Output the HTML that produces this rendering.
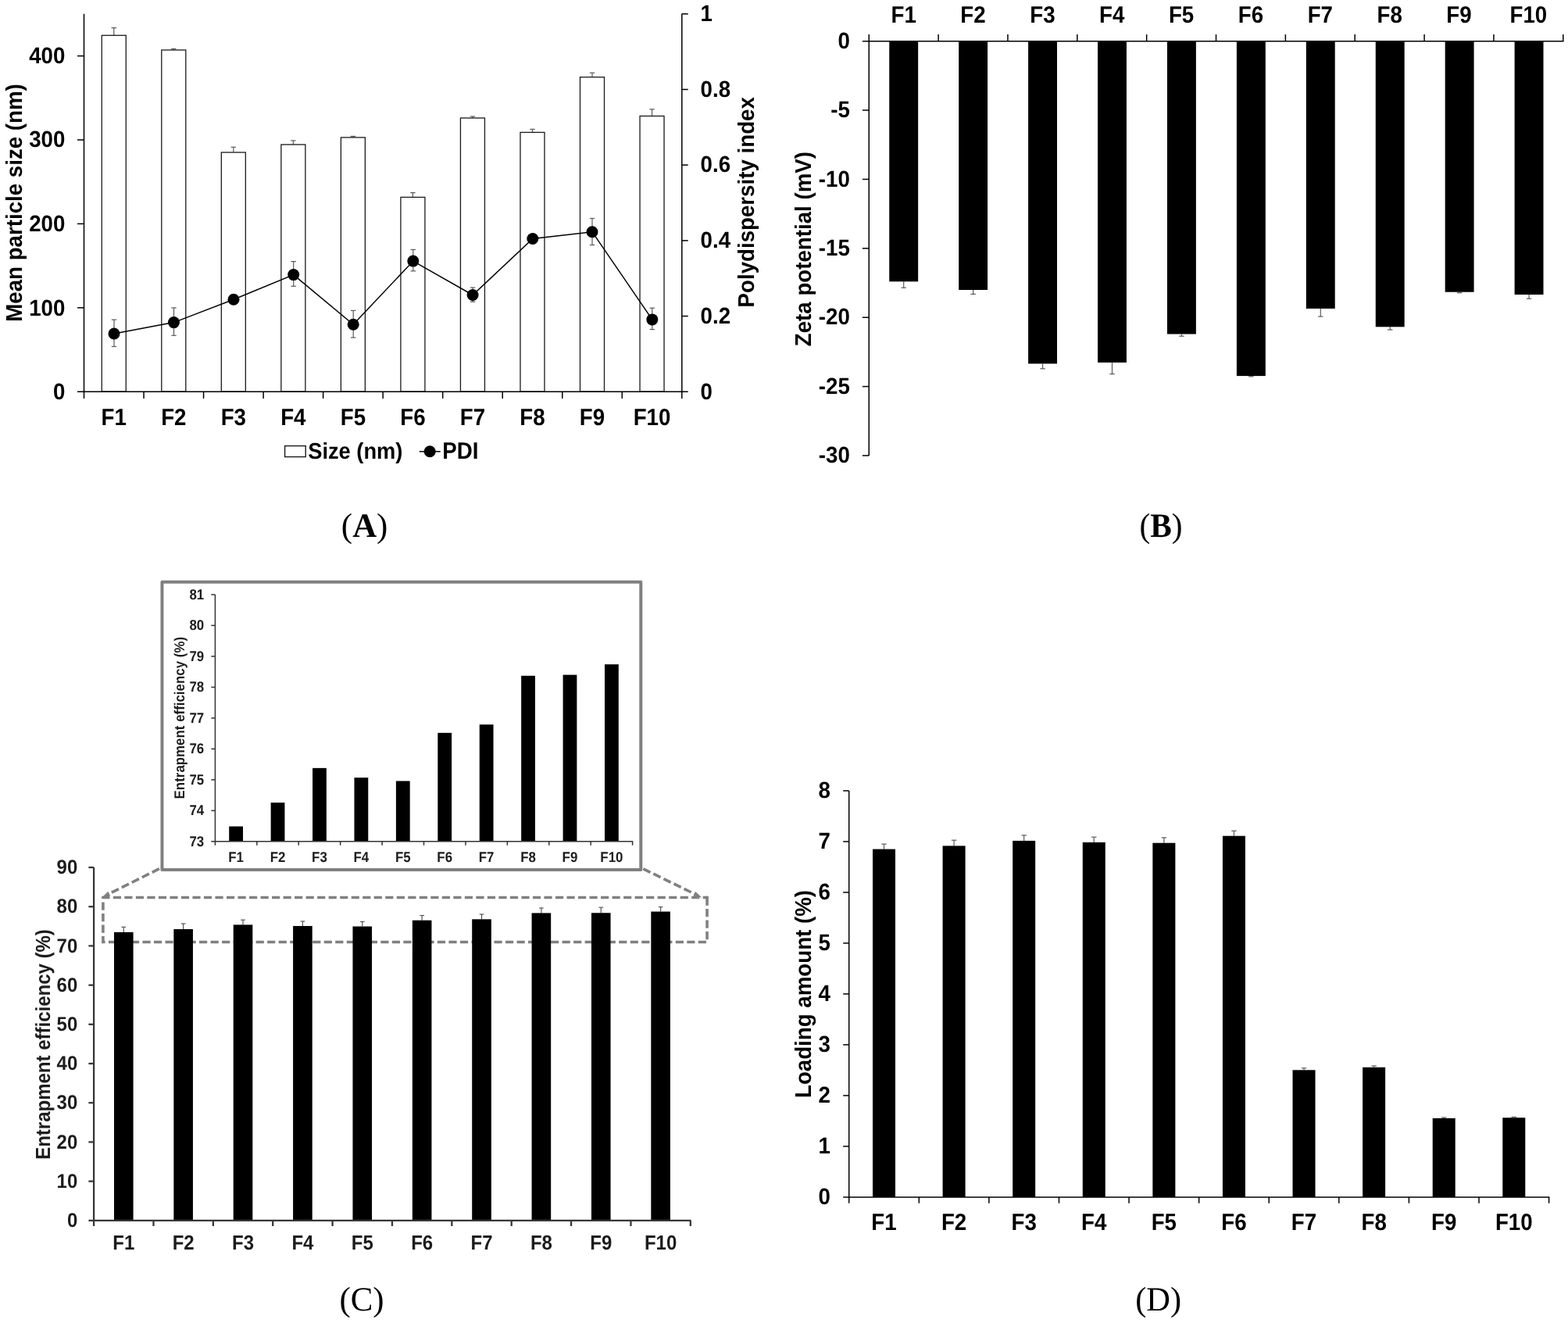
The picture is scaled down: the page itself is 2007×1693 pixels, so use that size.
<!DOCTYPE html>
<html lang="en">
<head>
<meta charset="utf-8">
<title>Figure: particle size, PDI, zeta potential, entrapment efficiency and loading amount of F1-F10</title>
<style>
html,body{margin:0;padding:0;background:#fff;}
body{width:2007px;height:1693px;overflow:hidden;}
svg{display:block;}
text{white-space:pre;text-rendering:geometricPrecision;}
</style>
</head>
<body>
<svg width="2007" height="1693" viewBox="0 0 2007 1693">
<rect x="0" y="0" width="2007" height="1693" fill="#fff"/>
<g id="chartA" font-family="'Liberation Sans', sans-serif" font-weight="bold">
<line x1="145.76" y1="45.30" x2="145.76" y2="35.60" stroke="#5a5a5a" stroke-width="1.2" />
<line x1="142.56" y1="35.60" x2="148.96" y2="35.60" stroke="#5a5a5a" stroke-width="1.2" />
<rect x="130.26" y="45.30" width="31.00" height="455.90" fill="#fff" stroke="#1a1a1a" stroke-width="1.3" />
<line x1="222.30" y1="64.00" x2="222.30" y2="62.50" stroke="#5a5a5a" stroke-width="1.2" />
<line x1="219.10" y1="62.50" x2="225.50" y2="62.50" stroke="#5a5a5a" stroke-width="1.2" />
<rect x="206.80" y="64.00" width="31.00" height="437.20" fill="#fff" stroke="#1a1a1a" stroke-width="1.3" />
<line x1="298.82" y1="195.00" x2="298.82" y2="188.30" stroke="#5a5a5a" stroke-width="1.2" />
<line x1="295.62" y1="188.30" x2="302.02" y2="188.30" stroke="#5a5a5a" stroke-width="1.2" />
<rect x="283.32" y="195.00" width="31.00" height="306.20" fill="#fff" stroke="#1a1a1a" stroke-width="1.3" />
<line x1="375.36" y1="185.00" x2="375.36" y2="179.90" stroke="#5a5a5a" stroke-width="1.2" />
<line x1="372.16" y1="179.90" x2="378.56" y2="179.90" stroke="#5a5a5a" stroke-width="1.2" />
<rect x="359.86" y="185.00" width="31.00" height="316.20" fill="#fff" stroke="#1a1a1a" stroke-width="1.3" />
<line x1="451.88" y1="175.90" x2="451.88" y2="174.40" stroke="#5a5a5a" stroke-width="1.2" />
<line x1="448.69" y1="174.40" x2="455.08" y2="174.40" stroke="#5a5a5a" stroke-width="1.2" />
<rect x="436.38" y="175.90" width="31.00" height="325.30" fill="#fff" stroke="#1a1a1a" stroke-width="1.3" />
<line x1="528.41" y1="252.40" x2="528.41" y2="246.60" stroke="#5a5a5a" stroke-width="1.2" />
<line x1="525.21" y1="246.60" x2="531.62" y2="246.60" stroke="#5a5a5a" stroke-width="1.2" />
<rect x="512.91" y="252.40" width="31.00" height="248.80" fill="#fff" stroke="#1a1a1a" stroke-width="1.3" />
<line x1="604.94" y1="151.00" x2="604.94" y2="149.00" stroke="#5a5a5a" stroke-width="1.2" />
<line x1="601.74" y1="149.00" x2="608.14" y2="149.00" stroke="#5a5a5a" stroke-width="1.2" />
<rect x="589.44" y="151.00" width="31.00" height="350.20" fill="#fff" stroke="#1a1a1a" stroke-width="1.3" />
<line x1="681.48" y1="169.40" x2="681.48" y2="165.40" stroke="#5a5a5a" stroke-width="1.2" />
<line x1="678.27" y1="165.40" x2="684.68" y2="165.40" stroke="#5a5a5a" stroke-width="1.2" />
<rect x="665.98" y="169.40" width="31.00" height="331.80" fill="#fff" stroke="#1a1a1a" stroke-width="1.3" />
<line x1="758.00" y1="98.70" x2="758.00" y2="93.20" stroke="#5a5a5a" stroke-width="1.2" />
<line x1="754.80" y1="93.20" x2="761.21" y2="93.20" stroke="#5a5a5a" stroke-width="1.2" />
<rect x="742.50" y="98.70" width="31.00" height="402.50" fill="#fff" stroke="#1a1a1a" stroke-width="1.3" />
<line x1="834.53" y1="148.50" x2="834.53" y2="139.80" stroke="#5a5a5a" stroke-width="1.2" />
<line x1="831.33" y1="139.80" x2="837.74" y2="139.80" stroke="#5a5a5a" stroke-width="1.2" />
<rect x="819.03" y="148.50" width="31.00" height="352.70" fill="#fff" stroke="#1a1a1a" stroke-width="1.3" />
<line x1="107.50" y1="17.80" x2="107.50" y2="501.20" stroke="#000" stroke-width="1.5" />
<line x1="872.80" y1="17.80" x2="872.80" y2="501.20" stroke="#000" stroke-width="1.5" />
<line x1="99.00" y1="501.20" x2="880.70" y2="501.20" stroke="#000" stroke-width="1.5" />
<text transform="translate(83.40 511.20) scale(1.0 1.06)" font-size="27.7" text-anchor="end" fill="#000" >0</text>
<line x1="99.00" y1="393.80" x2="107.50" y2="393.80" stroke="#000" stroke-width="1.5" />
<text transform="translate(83.40 403.54) scale(1.0 1.06)" font-size="27.7" text-anchor="end" fill="#000" >100</text>
<line x1="99.00" y1="286.40" x2="107.50" y2="286.40" stroke="#000" stroke-width="1.5" />
<text transform="translate(83.40 295.88) scale(1.0 1.06)" font-size="27.7" text-anchor="end" fill="#000" >200</text>
<line x1="99.00" y1="179.00" x2="107.50" y2="179.00" stroke="#000" stroke-width="1.5" />
<text transform="translate(83.40 188.22) scale(1.0 1.06)" font-size="27.7" text-anchor="end" fill="#000" >300</text>
<line x1="99.00" y1="71.60" x2="107.50" y2="71.60" stroke="#000" stroke-width="1.5" />
<text transform="translate(83.40 80.56) scale(1.0 1.06)" font-size="27.7" text-anchor="end" fill="#000" >400</text>
<text transform="translate(896.60 510.65) scale(1.0 1.06)" font-size="27.7" text-anchor="start" fill="#000" >0</text>
<line x1="872.80" y1="404.52" x2="880.70" y2="404.52" stroke="#000" stroke-width="1.5" />
<text transform="translate(896.60 413.88) scale(1.0 1.06)" font-size="27.7" text-anchor="start" fill="#000" >0.2</text>
<line x1="872.80" y1="307.84" x2="880.70" y2="307.84" stroke="#000" stroke-width="1.5" />
<text transform="translate(896.60 317.11) scale(1.0 1.06)" font-size="27.7" text-anchor="start" fill="#000" >0.4</text>
<line x1="872.80" y1="211.16" x2="880.70" y2="211.16" stroke="#000" stroke-width="1.5" />
<text transform="translate(896.60 220.34) scale(1.0 1.06)" font-size="27.7" text-anchor="start" fill="#000" >0.6</text>
<line x1="872.80" y1="114.48" x2="880.70" y2="114.48" stroke="#000" stroke-width="1.5" />
<text transform="translate(896.60 123.57) scale(1.0 1.06)" font-size="27.7" text-anchor="start" fill="#000" >0.8</text>
<line x1="872.80" y1="17.80" x2="880.70" y2="17.80" stroke="#000" stroke-width="1.5" />
<text transform="translate(896.60 26.80) scale(1.0 1.06)" font-size="27.7" text-anchor="start" fill="#000" >1</text>
<line x1="107.50" y1="501.20" x2="107.50" y2="509.90" stroke="#000" stroke-width="1.5" />
<line x1="184.03" y1="501.20" x2="184.03" y2="509.90" stroke="#000" stroke-width="1.5" />
<line x1="260.56" y1="501.20" x2="260.56" y2="509.90" stroke="#000" stroke-width="1.5" />
<line x1="337.09" y1="501.20" x2="337.09" y2="509.90" stroke="#000" stroke-width="1.5" />
<line x1="413.62" y1="501.20" x2="413.62" y2="509.90" stroke="#000" stroke-width="1.5" />
<line x1="490.15" y1="501.20" x2="490.15" y2="509.90" stroke="#000" stroke-width="1.5" />
<line x1="566.68" y1="501.20" x2="566.68" y2="509.90" stroke="#000" stroke-width="1.5" />
<line x1="643.21" y1="501.20" x2="643.21" y2="509.90" stroke="#000" stroke-width="1.5" />
<line x1="719.74" y1="501.20" x2="719.74" y2="509.90" stroke="#000" stroke-width="1.5" />
<line x1="796.27" y1="501.20" x2="796.27" y2="509.90" stroke="#000" stroke-width="1.5" />
<line x1="872.80" y1="501.20" x2="872.80" y2="509.90" stroke="#000" stroke-width="1.5" />
<text transform="translate(145.76 543.70) scale(1.0 1.09)" font-size="27.7" text-anchor="middle" fill="#000" >F1</text>
<text transform="translate(222.30 543.70) scale(1.0 1.09)" font-size="27.7" text-anchor="middle" fill="#000" >F2</text>
<text transform="translate(298.82 543.70) scale(1.0 1.09)" font-size="27.7" text-anchor="middle" fill="#000" >F3</text>
<text transform="translate(375.36 543.70) scale(1.0 1.09)" font-size="27.7" text-anchor="middle" fill="#000" >F4</text>
<text transform="translate(451.88 543.70) scale(1.0 1.09)" font-size="27.7" text-anchor="middle" fill="#000" >F5</text>
<text transform="translate(528.41 543.70) scale(1.0 1.09)" font-size="27.7" text-anchor="middle" fill="#000" >F6</text>
<text transform="translate(604.94 543.70) scale(1.0 1.09)" font-size="27.7" text-anchor="middle" fill="#000" >F7</text>
<text transform="translate(681.48 543.70) scale(1.0 1.09)" font-size="27.7" text-anchor="middle" fill="#000" >F8</text>
<text transform="translate(758.00 543.70) scale(1.0 1.09)" font-size="27.7" text-anchor="middle" fill="#000" >F9</text>
<text transform="translate(834.53 543.70) scale(1.0 1.09)" font-size="27.7" text-anchor="middle" fill="#000" >F10</text>
<polyline fill="none" stroke="#000" stroke-width="1.5" points="146.0,427.0 222.5,412.6 299.0,383.2 375.7,351.6 452.2,415.3 528.8,334.1 605.1,377.5 681.8,305.5 758.0,296.7 834.8,408.9"/>
<line x1="146.00" y1="409.10" x2="146.00" y2="443.50" stroke="#5a5a5a" stroke-width="1.2" />
<line x1="142.80" y1="409.10" x2="149.20" y2="409.10" stroke="#5a5a5a" stroke-width="1.2" />
<line x1="142.80" y1="443.50" x2="149.20" y2="443.50" stroke="#5a5a5a" stroke-width="1.2" />
<line x1="222.50" y1="393.90" x2="222.50" y2="429.30" stroke="#5a5a5a" stroke-width="1.2" />
<line x1="219.30" y1="393.90" x2="225.70" y2="393.90" stroke="#5a5a5a" stroke-width="1.2" />
<line x1="219.30" y1="429.30" x2="225.70" y2="429.30" stroke="#5a5a5a" stroke-width="1.2" />
<line x1="375.70" y1="334.60" x2="375.70" y2="366.30" stroke="#5a5a5a" stroke-width="1.2" />
<line x1="372.50" y1="334.60" x2="378.90" y2="334.60" stroke="#5a5a5a" stroke-width="1.2" />
<line x1="372.50" y1="366.30" x2="378.90" y2="366.30" stroke="#5a5a5a" stroke-width="1.2" />
<line x1="452.20" y1="397.40" x2="452.20" y2="432.00" stroke="#5a5a5a" stroke-width="1.2" />
<line x1="449.00" y1="397.40" x2="455.40" y2="397.40" stroke="#5a5a5a" stroke-width="1.2" />
<line x1="449.00" y1="432.00" x2="455.40" y2="432.00" stroke="#5a5a5a" stroke-width="1.2" />
<line x1="528.80" y1="319.40" x2="528.80" y2="346.80" stroke="#5a5a5a" stroke-width="1.2" />
<line x1="525.60" y1="319.40" x2="532.00" y2="319.40" stroke="#5a5a5a" stroke-width="1.2" />
<line x1="525.60" y1="346.80" x2="532.00" y2="346.80" stroke="#5a5a5a" stroke-width="1.2" />
<line x1="605.10" y1="368.00" x2="605.10" y2="386.20" stroke="#5a5a5a" stroke-width="1.2" />
<line x1="601.90" y1="368.00" x2="608.30" y2="368.00" stroke="#5a5a5a" stroke-width="1.2" />
<line x1="601.90" y1="386.20" x2="608.30" y2="386.20" stroke="#5a5a5a" stroke-width="1.2" />
<line x1="758.00" y1="279.50" x2="758.00" y2="313.50" stroke="#5a5a5a" stroke-width="1.2" />
<line x1="754.80" y1="279.50" x2="761.20" y2="279.50" stroke="#5a5a5a" stroke-width="1.2" />
<line x1="754.80" y1="313.50" x2="761.20" y2="313.50" stroke="#5a5a5a" stroke-width="1.2" />
<line x1="834.80" y1="394.20" x2="834.80" y2="421.60" stroke="#5a5a5a" stroke-width="1.2" />
<line x1="831.60" y1="394.20" x2="838.00" y2="394.20" stroke="#5a5a5a" stroke-width="1.2" />
<line x1="831.60" y1="421.60" x2="838.00" y2="421.60" stroke="#5a5a5a" stroke-width="1.2" />
<circle cx="146.0" cy="427.0" r="7.5" fill="#000"/>
<circle cx="222.5" cy="412.6" r="7.5" fill="#000"/>
<circle cx="299.0" cy="383.2" r="7.5" fill="#000"/>
<circle cx="375.7" cy="351.6" r="7.5" fill="#000"/>
<circle cx="452.2" cy="415.3" r="7.5" fill="#000"/>
<circle cx="528.8" cy="334.1" r="7.5" fill="#000"/>
<circle cx="605.1" cy="377.5" r="7.5" fill="#000"/>
<circle cx="681.8" cy="305.5" r="7.5" fill="#000"/>
<circle cx="758.0" cy="296.7" r="7.5" fill="#000"/>
<circle cx="834.8" cy="408.9" r="7.5" fill="#000"/>
<rect x="364.60" y="570.60" width="26.60" height="14.00" fill="#fff" stroke="#1a1a1a" stroke-width="1.4" />
<text transform="translate(394.20 587.00) scale(0.985 1.05)" font-size="27.7" text-anchor="start" fill="#000" >Size (nm)</text>
<line x1="536.80" y1="577.80" x2="563.70" y2="577.80" stroke="#000" stroke-width="1.5" />
<circle cx="550.2" cy="577.8" r="7.5" fill="#000"/>
<text transform="translate(566.20 587.00) scale(1.0 1.09)" font-size="27.7" text-anchor="start" fill="#000" >PDI</text>
<text transform="translate(27.80 259.50) rotate(-90) scale(1.0 1.05)" font-size="27.7" text-anchor="middle" fill="#000" >Mean particle size (nm)</text>
<text transform="translate(965.10 258.80) rotate(-90) scale(1.0 1.05)" font-size="27.7" text-anchor="middle" fill="#000" >Polydispersity index</text>
</g>
<g id="chartB" font-family="'Liberation Sans', sans-serif" font-weight="bold">
<line x1="1156.70" y1="360.30" x2="1156.70" y2="368.20" stroke="#5a5a5a" stroke-width="1.2" />
<line x1="1153.50" y1="368.20" x2="1159.90" y2="368.20" stroke="#5a5a5a" stroke-width="1.2" />
<rect x="1138.25" y="52.65" width="36.90" height="307.65" fill="#000" stroke="none" stroke-width="1" />
<line x1="1245.63" y1="371.00" x2="1245.63" y2="376.40" stroke="#5a5a5a" stroke-width="1.2" />
<line x1="1242.43" y1="376.40" x2="1248.83" y2="376.40" stroke="#5a5a5a" stroke-width="1.2" />
<rect x="1227.18" y="52.65" width="36.90" height="318.35" fill="#000" stroke="none" stroke-width="1" />
<line x1="1334.56" y1="465.40" x2="1334.56" y2="471.80" stroke="#5a5a5a" stroke-width="1.2" />
<line x1="1331.36" y1="471.80" x2="1337.76" y2="471.80" stroke="#5a5a5a" stroke-width="1.2" />
<rect x="1316.11" y="52.65" width="36.90" height="412.75" fill="#000" stroke="none" stroke-width="1" />
<line x1="1423.49" y1="463.90" x2="1423.49" y2="478.60" stroke="#5a5a5a" stroke-width="1.2" />
<line x1="1420.29" y1="478.60" x2="1426.69" y2="478.60" stroke="#5a5a5a" stroke-width="1.2" />
<rect x="1405.04" y="52.65" width="36.90" height="411.25" fill="#000" stroke="none" stroke-width="1" />
<line x1="1512.42" y1="427.50" x2="1512.42" y2="430.20" stroke="#5a5a5a" stroke-width="1.2" />
<line x1="1509.22" y1="430.20" x2="1515.62" y2="430.20" stroke="#5a5a5a" stroke-width="1.2" />
<rect x="1493.97" y="52.65" width="36.90" height="374.85" fill="#000" stroke="none" stroke-width="1" />
<line x1="1601.35" y1="481.10" x2="1601.35" y2="481.80" stroke="#5a5a5a" stroke-width="1.2" />
<line x1="1598.15" y1="481.80" x2="1604.55" y2="481.80" stroke="#5a5a5a" stroke-width="1.2" />
<rect x="1582.90" y="52.65" width="36.90" height="428.45" fill="#000" stroke="none" stroke-width="1" />
<line x1="1690.28" y1="394.90" x2="1690.28" y2="405.10" stroke="#5a5a5a" stroke-width="1.2" />
<line x1="1687.08" y1="405.10" x2="1693.48" y2="405.10" stroke="#5a5a5a" stroke-width="1.2" />
<rect x="1671.83" y="52.65" width="36.90" height="342.25" fill="#000" stroke="none" stroke-width="1" />
<line x1="1779.21" y1="418.30" x2="1779.21" y2="422.00" stroke="#5a5a5a" stroke-width="1.2" />
<line x1="1776.01" y1="422.00" x2="1782.41" y2="422.00" stroke="#5a5a5a" stroke-width="1.2" />
<rect x="1760.76" y="52.65" width="36.90" height="365.65" fill="#000" stroke="none" stroke-width="1" />
<line x1="1868.14" y1="373.70" x2="1868.14" y2="374.70" stroke="#5a5a5a" stroke-width="1.2" />
<line x1="1864.94" y1="374.70" x2="1871.34" y2="374.70" stroke="#5a5a5a" stroke-width="1.2" />
<rect x="1849.69" y="52.65" width="36.90" height="321.05" fill="#000" stroke="none" stroke-width="1" />
<line x1="1957.07" y1="377.00" x2="1957.07" y2="382.20" stroke="#5a5a5a" stroke-width="1.2" />
<line x1="1953.87" y1="382.20" x2="1960.27" y2="382.20" stroke="#5a5a5a" stroke-width="1.2" />
<rect x="1938.62" y="52.65" width="36.90" height="324.35" fill="#000" stroke="none" stroke-width="1" />
<line x1="1112.25" y1="44.10" x2="1112.25" y2="583.00" stroke="#000" stroke-width="1.5" />
<line x1="1103.90" y1="52.65" x2="2001.50" y2="52.65" stroke="#000" stroke-width="1.5" />
<text transform="translate(1087.90 61.75) scale(1.0 1.06)" font-size="27.7" text-anchor="end" fill="#000" >0</text>
<line x1="1103.90" y1="141.04" x2="1112.25" y2="141.04" stroke="#000" stroke-width="1.5" />
<text transform="translate(1087.90 150.14) scale(1.0 1.06)" font-size="27.7" text-anchor="end" fill="#000" >-5</text>
<line x1="1103.90" y1="229.43" x2="1112.25" y2="229.43" stroke="#000" stroke-width="1.5" />
<text transform="translate(1087.90 238.53) scale(1.0 1.06)" font-size="27.7" text-anchor="end" fill="#000" >-10</text>
<line x1="1103.90" y1="317.82" x2="1112.25" y2="317.82" stroke="#000" stroke-width="1.5" />
<text transform="translate(1087.90 326.93) scale(1.0 1.06)" font-size="27.7" text-anchor="end" fill="#000" >-15</text>
<line x1="1103.90" y1="406.22" x2="1112.25" y2="406.22" stroke="#000" stroke-width="1.5" />
<text transform="translate(1087.90 415.32) scale(1.0 1.06)" font-size="27.7" text-anchor="end" fill="#000" >-20</text>
<line x1="1103.90" y1="494.61" x2="1112.25" y2="494.61" stroke="#000" stroke-width="1.5" />
<text transform="translate(1087.90 503.71) scale(1.0 1.06)" font-size="27.7" text-anchor="end" fill="#000" >-25</text>
<line x1="1103.90" y1="583.00" x2="1112.25" y2="583.00" stroke="#000" stroke-width="1.5" />
<text transform="translate(1087.90 592.10) scale(1.0 1.06)" font-size="27.7" text-anchor="end" fill="#000" >-30</text>
<line x1="1201.11" y1="44.10" x2="1201.11" y2="52.65" stroke="#000" stroke-width="1.5" />
<line x1="1289.96" y1="44.10" x2="1289.96" y2="52.65" stroke="#000" stroke-width="1.5" />
<line x1="1378.82" y1="44.10" x2="1378.82" y2="52.65" stroke="#000" stroke-width="1.5" />
<line x1="1467.67" y1="44.10" x2="1467.67" y2="52.65" stroke="#000" stroke-width="1.5" />
<line x1="1556.53" y1="44.10" x2="1556.53" y2="52.65" stroke="#000" stroke-width="1.5" />
<line x1="1645.38" y1="44.10" x2="1645.38" y2="52.65" stroke="#000" stroke-width="1.5" />
<line x1="1734.23" y1="44.10" x2="1734.23" y2="52.65" stroke="#000" stroke-width="1.5" />
<line x1="1823.09" y1="44.10" x2="1823.09" y2="52.65" stroke="#000" stroke-width="1.5" />
<line x1="1911.94" y1="44.10" x2="1911.94" y2="52.65" stroke="#000" stroke-width="1.5" />
<line x1="2000.80" y1="44.10" x2="2000.80" y2="52.65" stroke="#000" stroke-width="1.5" />
<text transform="translate(1156.68 28.60) scale(1.0 1.09)" font-size="27.7" text-anchor="middle" fill="#000" >F1</text>
<text transform="translate(1245.53 28.60) scale(1.0 1.09)" font-size="27.7" text-anchor="middle" fill="#000" >F2</text>
<text transform="translate(1334.39 28.60) scale(1.0 1.09)" font-size="27.7" text-anchor="middle" fill="#000" >F3</text>
<text transform="translate(1423.24 28.60) scale(1.0 1.09)" font-size="27.7" text-anchor="middle" fill="#000" >F4</text>
<text transform="translate(1512.10 28.60) scale(1.0 1.09)" font-size="27.7" text-anchor="middle" fill="#000" >F5</text>
<text transform="translate(1600.95 28.60) scale(1.0 1.09)" font-size="27.7" text-anchor="middle" fill="#000" >F6</text>
<text transform="translate(1689.81 28.60) scale(1.0 1.09)" font-size="27.7" text-anchor="middle" fill="#000" >F7</text>
<text transform="translate(1778.66 28.60) scale(1.0 1.09)" font-size="27.7" text-anchor="middle" fill="#000" >F8</text>
<text transform="translate(1867.52 28.60) scale(1.0 1.09)" font-size="27.7" text-anchor="middle" fill="#000" >F9</text>
<text transform="translate(1956.37 28.60) scale(1.0 1.09)" font-size="27.7" text-anchor="middle" fill="#000" >F10</text>
<text transform="translate(1038.00 318.60) rotate(-90) scale(1.0 1.05)" font-size="27.7" text-anchor="middle" fill="#000" >Zeta potential (mV)</text>
</g>
<g id="chartD" font-family="'Liberation Sans', sans-serif" font-weight="bold">
<line x1="1131.50" y1="1086.60" x2="1131.50" y2="1080.10" stroke="#5a5a5a" stroke-width="1.2" />
<line x1="1128.30" y1="1080.10" x2="1134.70" y2="1080.10" stroke="#5a5a5a" stroke-width="1.2" />
<rect x="1117.00" y="1086.60" width="29.00" height="445.35" fill="#000" stroke="none" stroke-width="1" />
<line x1="1221.09" y1="1082.40" x2="1221.09" y2="1075.20" stroke="#5a5a5a" stroke-width="1.2" />
<line x1="1217.88" y1="1075.20" x2="1224.29" y2="1075.20" stroke="#5a5a5a" stroke-width="1.2" />
<rect x="1206.59" y="1082.40" width="29.00" height="449.55" fill="#000" stroke="none" stroke-width="1" />
<line x1="1310.67" y1="1075.90" x2="1310.67" y2="1068.90" stroke="#5a5a5a" stroke-width="1.2" />
<line x1="1307.47" y1="1068.90" x2="1313.88" y2="1068.90" stroke="#5a5a5a" stroke-width="1.2" />
<rect x="1296.17" y="1075.90" width="29.00" height="456.05" fill="#000" stroke="none" stroke-width="1" />
<line x1="1400.26" y1="1077.90" x2="1400.26" y2="1071.20" stroke="#5a5a5a" stroke-width="1.2" />
<line x1="1397.06" y1="1071.20" x2="1403.46" y2="1071.20" stroke="#5a5a5a" stroke-width="1.2" />
<rect x="1385.76" y="1077.90" width="29.00" height="454.05" fill="#000" stroke="none" stroke-width="1" />
<line x1="1489.86" y1="1078.70" x2="1489.86" y2="1071.90" stroke="#5a5a5a" stroke-width="1.2" />
<line x1="1486.65" y1="1071.90" x2="1493.06" y2="1071.90" stroke="#5a5a5a" stroke-width="1.2" />
<rect x="1475.36" y="1078.70" width="29.00" height="453.25" fill="#000" stroke="none" stroke-width="1" />
<line x1="1579.44" y1="1069.70" x2="1579.44" y2="1063.20" stroke="#5a5a5a" stroke-width="1.2" />
<line x1="1576.24" y1="1063.20" x2="1582.64" y2="1063.20" stroke="#5a5a5a" stroke-width="1.2" />
<rect x="1564.94" y="1069.70" width="29.00" height="462.25" fill="#000" stroke="none" stroke-width="1" />
<line x1="1669.03" y1="1369.30" x2="1669.03" y2="1366.80" stroke="#5a5a5a" stroke-width="1.2" />
<line x1="1665.83" y1="1366.80" x2="1672.23" y2="1366.80" stroke="#5a5a5a" stroke-width="1.2" />
<rect x="1654.53" y="1369.30" width="29.00" height="162.65" fill="#000" stroke="none" stroke-width="1" />
<line x1="1758.62" y1="1365.80" x2="1758.62" y2="1364.00" stroke="#5a5a5a" stroke-width="1.2" />
<line x1="1755.42" y1="1364.00" x2="1761.83" y2="1364.00" stroke="#5a5a5a" stroke-width="1.2" />
<rect x="1744.12" y="1365.80" width="29.00" height="166.15" fill="#000" stroke="none" stroke-width="1" />
<line x1="1848.21" y1="1431.00" x2="1848.21" y2="1430.00" stroke="#5a5a5a" stroke-width="1.2" />
<line x1="1845.01" y1="1430.00" x2="1851.41" y2="1430.00" stroke="#5a5a5a" stroke-width="1.2" />
<rect x="1833.71" y="1431.00" width="29.00" height="100.95" fill="#000" stroke="none" stroke-width="1" />
<line x1="1937.80" y1="1430.30" x2="1937.80" y2="1429.50" stroke="#5a5a5a" stroke-width="1.2" />
<line x1="1934.60" y1="1429.50" x2="1941.00" y2="1429.50" stroke="#5a5a5a" stroke-width="1.2" />
<rect x="1923.30" y="1430.30" width="29.00" height="101.65" fill="#000" stroke="none" stroke-width="1" />
<line x1="1086.70" y1="1011.90" x2="1086.70" y2="1531.95" stroke="#000" stroke-width="1.5" />
<line x1="1079.20" y1="1531.95" x2="1983.30" y2="1531.95" stroke="#000" stroke-width="1.5" />
<text transform="translate(1062.90 1540.95) scale(1.0 1.06)" font-size="27.7" text-anchor="end" fill="#000" >0</text>
<line x1="1079.20" y1="1466.94" x2="1086.70" y2="1466.94" stroke="#000" stroke-width="1.5" />
<text transform="translate(1062.90 1475.94) scale(1.0 1.06)" font-size="27.7" text-anchor="end" fill="#000" >1</text>
<line x1="1079.20" y1="1401.94" x2="1086.70" y2="1401.94" stroke="#000" stroke-width="1.5" />
<text transform="translate(1062.90 1410.94) scale(1.0 1.06)" font-size="27.7" text-anchor="end" fill="#000" >2</text>
<line x1="1079.20" y1="1336.93" x2="1086.70" y2="1336.93" stroke="#000" stroke-width="1.5" />
<text transform="translate(1062.90 1345.93) scale(1.0 1.06)" font-size="27.7" text-anchor="end" fill="#000" >3</text>
<line x1="1079.20" y1="1271.92" x2="1086.70" y2="1271.92" stroke="#000" stroke-width="1.5" />
<text transform="translate(1062.90 1280.92) scale(1.0 1.06)" font-size="27.7" text-anchor="end" fill="#000" >4</text>
<line x1="1079.20" y1="1206.92" x2="1086.70" y2="1206.92" stroke="#000" stroke-width="1.5" />
<text transform="translate(1062.90 1215.92) scale(1.0 1.06)" font-size="27.7" text-anchor="end" fill="#000" >5</text>
<line x1="1079.20" y1="1141.91" x2="1086.70" y2="1141.91" stroke="#000" stroke-width="1.5" />
<text transform="translate(1062.90 1150.91) scale(1.0 1.06)" font-size="27.7" text-anchor="end" fill="#000" >6</text>
<line x1="1079.20" y1="1076.91" x2="1086.70" y2="1076.91" stroke="#000" stroke-width="1.5" />
<text transform="translate(1062.90 1085.91) scale(1.0 1.06)" font-size="27.7" text-anchor="end" fill="#000" >7</text>
<line x1="1079.20" y1="1011.90" x2="1086.70" y2="1011.90" stroke="#000" stroke-width="1.5" />
<text transform="translate(1062.90 1020.90) scale(1.0 1.06)" font-size="27.7" text-anchor="end" fill="#000" >8</text>
<line x1="1086.70" y1="1531.95" x2="1086.70" y2="1539.70" stroke="#000" stroke-width="1.5" />
<line x1="1176.29" y1="1531.95" x2="1176.29" y2="1539.70" stroke="#000" stroke-width="1.5" />
<line x1="1265.88" y1="1531.95" x2="1265.88" y2="1539.70" stroke="#000" stroke-width="1.5" />
<line x1="1355.47" y1="1531.95" x2="1355.47" y2="1539.70" stroke="#000" stroke-width="1.5" />
<line x1="1445.06" y1="1531.95" x2="1445.06" y2="1539.70" stroke="#000" stroke-width="1.5" />
<line x1="1534.65" y1="1531.95" x2="1534.65" y2="1539.70" stroke="#000" stroke-width="1.5" />
<line x1="1624.24" y1="1531.95" x2="1624.24" y2="1539.70" stroke="#000" stroke-width="1.5" />
<line x1="1713.83" y1="1531.95" x2="1713.83" y2="1539.70" stroke="#000" stroke-width="1.5" />
<line x1="1803.42" y1="1531.95" x2="1803.42" y2="1539.70" stroke="#000" stroke-width="1.5" />
<line x1="1893.01" y1="1531.95" x2="1893.01" y2="1539.70" stroke="#000" stroke-width="1.5" />
<line x1="1982.60" y1="1531.95" x2="1982.60" y2="1539.70" stroke="#000" stroke-width="1.5" />
<text transform="translate(1131.50 1574.00) scale(1.0 1.09)" font-size="27.7" text-anchor="middle" fill="#000" >F1</text>
<text transform="translate(1221.09 1574.00) scale(1.0 1.09)" font-size="27.7" text-anchor="middle" fill="#000" >F2</text>
<text transform="translate(1310.67 1574.00) scale(1.0 1.09)" font-size="27.7" text-anchor="middle" fill="#000" >F3</text>
<text transform="translate(1400.26 1574.00) scale(1.0 1.09)" font-size="27.7" text-anchor="middle" fill="#000" >F4</text>
<text transform="translate(1489.86 1574.00) scale(1.0 1.09)" font-size="27.7" text-anchor="middle" fill="#000" >F5</text>
<text transform="translate(1579.44 1574.00) scale(1.0 1.09)" font-size="27.7" text-anchor="middle" fill="#000" >F6</text>
<text transform="translate(1669.03 1574.00) scale(1.0 1.09)" font-size="27.7" text-anchor="middle" fill="#000" >F7</text>
<text transform="translate(1758.62 1574.00) scale(1.0 1.09)" font-size="27.7" text-anchor="middle" fill="#000" >F8</text>
<text transform="translate(1848.21 1574.00) scale(1.0 1.09)" font-size="27.7" text-anchor="middle" fill="#000" >F9</text>
<text transform="translate(1937.80 1574.00) scale(1.0 1.09)" font-size="27.7" text-anchor="middle" fill="#000" >F10</text>
<text transform="translate(1038.00 1272.00) rotate(-90) scale(1.0 1.05)" font-size="27.7" text-anchor="middle" fill="#000" >Loading amount (%)</text>
</g>
<g id="chartC" font-family="'Liberation Sans', sans-serif" font-weight="bold">
<path d="M905.05 1148.5 V1205.5 H131.9 V1148.5 H905.05" fill="none" stroke="#808080" stroke-width="3.6" stroke-dasharray="10.2 4.317"/>
<rect x="903.25" y="1146.7" width="3.6" height="3.0" fill="#808080"/>
<line x1="204.50" y1="1111.40" x2="138.90" y2="1144.16" stroke="#808080" stroke-width="3.6" stroke-dasharray="10.2 4.317" stroke-dashoffset="-0.7"/>
<polygon points="130.40,1148.40 138.36,1140.85 141.22,1146.57" fill="#808080"/>
<line x1="822.70" y1="1111.50" x2="889.76" y2="1144.23" stroke="#808080" stroke-width="3.6" stroke-dasharray="10.2 4.317" stroke-dashoffset="-0.7"/>
<polygon points="898.30,1148.40 887.46,1146.67 890.27,1140.92" fill="#808080"/>
<line x1="158.28" y1="1192.89" x2="158.28" y2="1186.30" stroke="#555" stroke-width="1.2" />
<line x1="155.48" y1="1186.30" x2="161.09" y2="1186.30" stroke="#555" stroke-width="1.2" />
<rect x="145.98" y="1192.89" width="24.60" height="368.96" fill="#000" stroke="none" stroke-width="1" />
<line x1="234.65" y1="1189.02" x2="234.65" y2="1182.00" stroke="#555" stroke-width="1.2" />
<line x1="231.85" y1="1182.00" x2="237.45" y2="1182.00" stroke="#555" stroke-width="1.2" />
<rect x="222.35" y="1189.02" width="24.60" height="372.83" fill="#000" stroke="none" stroke-width="1" />
<line x1="311.02" y1="1183.40" x2="311.02" y2="1177.20" stroke="#555" stroke-width="1.2" />
<line x1="308.22" y1="1177.20" x2="313.82" y2="1177.20" stroke="#555" stroke-width="1.2" />
<rect x="298.72" y="1183.40" width="24.60" height="378.45" fill="#000" stroke="none" stroke-width="1" />
<line x1="387.39" y1="1184.96" x2="387.39" y2="1179.00" stroke="#555" stroke-width="1.2" />
<line x1="384.59" y1="1179.00" x2="390.19" y2="1179.00" stroke="#555" stroke-width="1.2" />
<rect x="375.09" y="1184.96" width="24.60" height="376.89" fill="#000" stroke="none" stroke-width="1" />
<line x1="463.76" y1="1185.51" x2="463.76" y2="1179.50" stroke="#555" stroke-width="1.2" />
<line x1="460.96" y1="1179.50" x2="466.56" y2="1179.50" stroke="#555" stroke-width="1.2" />
<rect x="451.46" y="1185.51" width="24.60" height="376.34" fill="#000" stroke="none" stroke-width="1" />
<line x1="540.13" y1="1177.68" x2="540.13" y2="1171.50" stroke="#555" stroke-width="1.2" />
<line x1="537.34" y1="1171.50" x2="542.93" y2="1171.50" stroke="#555" stroke-width="1.2" />
<rect x="527.84" y="1177.68" width="24.60" height="384.17" fill="#000" stroke="none" stroke-width="1" />
<line x1="616.50" y1="1176.32" x2="616.50" y2="1170.00" stroke="#555" stroke-width="1.2" />
<line x1="613.70" y1="1170.00" x2="619.30" y2="1170.00" stroke="#555" stroke-width="1.2" />
<rect x="604.20" y="1176.32" width="24.60" height="385.53" fill="#000" stroke="none" stroke-width="1" />
<line x1="692.88" y1="1168.39" x2="692.88" y2="1162.00" stroke="#555" stroke-width="1.2" />
<line x1="690.08" y1="1162.00" x2="695.67" y2="1162.00" stroke="#555" stroke-width="1.2" />
<rect x="680.58" y="1168.39" width="24.60" height="393.46" fill="#000" stroke="none" stroke-width="1" />
<line x1="769.24" y1="1168.24" x2="769.24" y2="1161.20" stroke="#555" stroke-width="1.2" />
<line x1="766.44" y1="1161.20" x2="772.04" y2="1161.20" stroke="#555" stroke-width="1.2" />
<rect x="756.94" y="1168.24" width="24.60" height="393.61" fill="#000" stroke="none" stroke-width="1" />
<line x1="845.61" y1="1166.53" x2="845.61" y2="1160.60" stroke="#555" stroke-width="1.2" />
<line x1="842.81" y1="1160.60" x2="848.41" y2="1160.60" stroke="#555" stroke-width="1.2" />
<rect x="833.31" y="1166.53" width="24.60" height="395.32" fill="#000" stroke="none" stroke-width="1" />
<line x1="120.10" y1="1110.00" x2="120.10" y2="1561.85" stroke="#383838" stroke-width="2.3" />
<line x1="113.40" y1="1561.85" x2="884.40" y2="1561.85" stroke="#383838" stroke-width="2.3" />
<text transform="translate(99.30 1570.05) scale(1.0 1.065)" font-size="24.0" text-anchor="end" fill="#1c1c1c" >0</text>
<line x1="113.40" y1="1511.64" x2="120.10" y2="1511.64" stroke="#383838" stroke-width="2.3" />
<text transform="translate(99.30 1519.84) scale(1.0 1.065)" font-size="24.0" text-anchor="end" fill="#1c1c1c" >10</text>
<line x1="113.40" y1="1461.44" x2="120.10" y2="1461.44" stroke="#383838" stroke-width="2.3" />
<text transform="translate(99.30 1469.64) scale(1.0 1.065)" font-size="24.0" text-anchor="end" fill="#1c1c1c" >20</text>
<line x1="113.40" y1="1411.23" x2="120.10" y2="1411.23" stroke="#383838" stroke-width="2.3" />
<text transform="translate(99.30 1419.43) scale(1.0 1.065)" font-size="24.0" text-anchor="end" fill="#1c1c1c" >30</text>
<line x1="113.40" y1="1361.03" x2="120.10" y2="1361.03" stroke="#383838" stroke-width="2.3" />
<text transform="translate(99.30 1369.23) scale(1.0 1.065)" font-size="24.0" text-anchor="end" fill="#1c1c1c" >40</text>
<line x1="113.40" y1="1310.82" x2="120.10" y2="1310.82" stroke="#383838" stroke-width="2.3" />
<text transform="translate(99.30 1319.02) scale(1.0 1.065)" font-size="24.0" text-anchor="end" fill="#1c1c1c" >50</text>
<line x1="113.40" y1="1260.62" x2="120.10" y2="1260.62" stroke="#383838" stroke-width="2.3" />
<text transform="translate(99.30 1268.82) scale(1.0 1.065)" font-size="24.0" text-anchor="end" fill="#1c1c1c" >60</text>
<line x1="113.40" y1="1210.41" x2="120.10" y2="1210.41" stroke="#383838" stroke-width="2.3" />
<text transform="translate(99.30 1218.61) scale(1.0 1.065)" font-size="24.0" text-anchor="end" fill="#1c1c1c" >70</text>
<line x1="113.40" y1="1160.21" x2="120.10" y2="1160.21" stroke="#383838" stroke-width="2.3" />
<text transform="translate(99.30 1168.41) scale(1.0 1.065)" font-size="24.0" text-anchor="end" fill="#1c1c1c" >80</text>
<line x1="113.40" y1="1110.00" x2="120.10" y2="1110.00" stroke="#383838" stroke-width="2.3" />
<text transform="translate(99.30 1118.20) scale(1.0 1.065)" font-size="24.0" text-anchor="end" fill="#1c1c1c" >90</text>
<line x1="120.10" y1="1561.85" x2="120.10" y2="1569.00" stroke="#383838" stroke-width="2.3" />
<line x1="196.47" y1="1561.85" x2="196.47" y2="1569.00" stroke="#383838" stroke-width="2.3" />
<line x1="272.84" y1="1561.85" x2="272.84" y2="1569.00" stroke="#383838" stroke-width="2.3" />
<line x1="349.21" y1="1561.85" x2="349.21" y2="1569.00" stroke="#383838" stroke-width="2.3" />
<line x1="425.58" y1="1561.85" x2="425.58" y2="1569.00" stroke="#383838" stroke-width="2.3" />
<line x1="501.95" y1="1561.85" x2="501.95" y2="1569.00" stroke="#383838" stroke-width="2.3" />
<line x1="578.32" y1="1561.85" x2="578.32" y2="1569.00" stroke="#383838" stroke-width="2.3" />
<line x1="654.69" y1="1561.85" x2="654.69" y2="1569.00" stroke="#383838" stroke-width="2.3" />
<line x1="731.06" y1="1561.85" x2="731.06" y2="1569.00" stroke="#383838" stroke-width="2.3" />
<line x1="807.43" y1="1561.85" x2="807.43" y2="1569.00" stroke="#383838" stroke-width="2.3" />
<line x1="883.80" y1="1561.85" x2="883.80" y2="1569.00" stroke="#383838" stroke-width="2.3" />
<text transform="translate(158.28 1598.60) scale(1.0 1.09)" font-size="24.0" text-anchor="middle" fill="#1c1c1c" >F1</text>
<text transform="translate(234.65 1598.60) scale(1.0 1.09)" font-size="24.0" text-anchor="middle" fill="#1c1c1c" >F2</text>
<text transform="translate(311.02 1598.60) scale(1.0 1.09)" font-size="24.0" text-anchor="middle" fill="#1c1c1c" >F3</text>
<text transform="translate(387.39 1598.60) scale(1.0 1.09)" font-size="24.0" text-anchor="middle" fill="#1c1c1c" >F4</text>
<text transform="translate(463.76 1598.60) scale(1.0 1.09)" font-size="24.0" text-anchor="middle" fill="#1c1c1c" >F5</text>
<text transform="translate(540.13 1598.60) scale(1.0 1.09)" font-size="24.0" text-anchor="middle" fill="#1c1c1c" >F6</text>
<text transform="translate(616.50 1598.60) scale(1.0 1.09)" font-size="24.0" text-anchor="middle" fill="#1c1c1c" >F7</text>
<text transform="translate(692.88 1598.60) scale(1.0 1.09)" font-size="24.0" text-anchor="middle" fill="#1c1c1c" >F8</text>
<text transform="translate(769.24 1598.60) scale(1.0 1.09)" font-size="24.0" text-anchor="middle" fill="#1c1c1c" >F9</text>
<text transform="translate(845.61 1598.60) scale(1.0 1.09)" font-size="24.0" text-anchor="middle" fill="#1c1c1c" >F10</text>
<text transform="translate(63.50 1336.50) rotate(-90) scale(1.0 1.09)" font-size="24.0" text-anchor="middle" fill="#1c1c1c" >Entrapment efficiency (%)</text>
<rect x="207.45" y="744.85" width="612.85" height="368.25" fill="#fff" stroke="#808080" stroke-width="4.0" stroke-linejoin="round"/>
<rect x="293.21" y="1057.50" width="17.80" height="19.35" fill="#000" stroke="none" stroke-width="1" />
<rect x="346.63" y="1027.09" width="17.80" height="49.76" fill="#000" stroke="none" stroke-width="1" />
<rect x="400.05" y="982.85" width="17.80" height="94.00" fill="#000" stroke="none" stroke-width="1" />
<rect x="453.47" y="995.10" width="17.80" height="81.75" fill="#000" stroke="none" stroke-width="1" />
<rect x="506.89" y="999.44" width="17.80" height="77.41" fill="#000" stroke="none" stroke-width="1" />
<rect x="560.31" y="937.83" width="17.80" height="139.02" fill="#000" stroke="none" stroke-width="1" />
<rect x="613.73" y="927.17" width="17.80" height="149.68" fill="#000" stroke="none" stroke-width="1" />
<rect x="667.15" y="864.77" width="17.80" height="212.08" fill="#000" stroke="none" stroke-width="1" />
<rect x="720.57" y="863.58" width="17.80" height="213.27" fill="#000" stroke="none" stroke-width="1" />
<rect x="773.99" y="850.16" width="17.80" height="226.69" fill="#000" stroke="none" stroke-width="1" />
<line x1="275.40" y1="760.90" x2="275.40" y2="1076.85" stroke="#333" stroke-width="1.5" />
<line x1="270.30" y1="1076.85" x2="810.10" y2="1076.85" stroke="#333" stroke-width="1.5" />
<text transform="translate(261.20 1082.90) scale(1.0 1.09)" font-size="16.9" text-anchor="end" fill="#1c1c1c" >73</text>
<line x1="270.30" y1="1037.36" x2="275.40" y2="1037.36" stroke="#333" stroke-width="1.5" />
<text transform="translate(261.20 1043.41) scale(1.0 1.09)" font-size="16.9" text-anchor="end" fill="#1c1c1c" >74</text>
<line x1="270.30" y1="997.86" x2="275.40" y2="997.86" stroke="#333" stroke-width="1.5" />
<text transform="translate(261.20 1003.91) scale(1.0 1.09)" font-size="16.9" text-anchor="end" fill="#1c1c1c" >75</text>
<line x1="270.30" y1="958.37" x2="275.40" y2="958.37" stroke="#333" stroke-width="1.5" />
<text transform="translate(261.20 964.42) scale(1.0 1.09)" font-size="16.9" text-anchor="end" fill="#1c1c1c" >76</text>
<line x1="270.30" y1="918.88" x2="275.40" y2="918.88" stroke="#333" stroke-width="1.5" />
<text transform="translate(261.20 924.93) scale(1.0 1.09)" font-size="16.9" text-anchor="end" fill="#1c1c1c" >77</text>
<line x1="270.30" y1="879.38" x2="275.40" y2="879.38" stroke="#333" stroke-width="1.5" />
<text transform="translate(261.20 885.43) scale(1.0 1.09)" font-size="16.9" text-anchor="end" fill="#1c1c1c" >78</text>
<line x1="270.30" y1="839.89" x2="275.40" y2="839.89" stroke="#333" stroke-width="1.5" />
<text transform="translate(261.20 845.94) scale(1.0 1.09)" font-size="16.9" text-anchor="end" fill="#1c1c1c" >79</text>
<line x1="270.30" y1="800.39" x2="275.40" y2="800.39" stroke="#333" stroke-width="1.5" />
<text transform="translate(261.20 806.44) scale(1.0 1.09)" font-size="16.9" text-anchor="end" fill="#1c1c1c" >80</text>
<line x1="270.30" y1="760.90" x2="275.40" y2="760.90" stroke="#333" stroke-width="1.5" />
<text transform="translate(261.20 766.95) scale(1.0 1.09)" font-size="16.9" text-anchor="end" fill="#1c1c1c" >81</text>
<line x1="275.40" y1="1076.85" x2="275.40" y2="1081.70" stroke="#333" stroke-width="1.5" />
<line x1="328.82" y1="1076.85" x2="328.82" y2="1081.70" stroke="#333" stroke-width="1.5" />
<line x1="382.24" y1="1076.85" x2="382.24" y2="1081.70" stroke="#333" stroke-width="1.5" />
<line x1="435.66" y1="1076.85" x2="435.66" y2="1081.70" stroke="#333" stroke-width="1.5" />
<line x1="489.08" y1="1076.85" x2="489.08" y2="1081.70" stroke="#333" stroke-width="1.5" />
<line x1="542.50" y1="1076.85" x2="542.50" y2="1081.70" stroke="#333" stroke-width="1.5" />
<line x1="595.92" y1="1076.85" x2="595.92" y2="1081.70" stroke="#333" stroke-width="1.5" />
<line x1="649.34" y1="1076.85" x2="649.34" y2="1081.70" stroke="#333" stroke-width="1.5" />
<line x1="702.76" y1="1076.85" x2="702.76" y2="1081.70" stroke="#333" stroke-width="1.5" />
<line x1="756.18" y1="1076.85" x2="756.18" y2="1081.70" stroke="#333" stroke-width="1.5" />
<line x1="809.60" y1="1076.85" x2="809.60" y2="1081.70" stroke="#333" stroke-width="1.5" />
<text transform="translate(302.11 1102.70) scale(1.0 1.09)" font-size="16.9" text-anchor="middle" fill="#1c1c1c" >F1</text>
<text transform="translate(355.53 1102.70) scale(1.0 1.09)" font-size="16.9" text-anchor="middle" fill="#1c1c1c" >F2</text>
<text transform="translate(408.95 1102.70) scale(1.0 1.09)" font-size="16.9" text-anchor="middle" fill="#1c1c1c" >F3</text>
<text transform="translate(462.37 1102.70) scale(1.0 1.09)" font-size="16.9" text-anchor="middle" fill="#1c1c1c" >F4</text>
<text transform="translate(515.79 1102.70) scale(1.0 1.09)" font-size="16.9" text-anchor="middle" fill="#1c1c1c" >F5</text>
<text transform="translate(569.21 1102.70) scale(1.0 1.09)" font-size="16.9" text-anchor="middle" fill="#1c1c1c" >F6</text>
<text transform="translate(622.63 1102.70) scale(1.0 1.09)" font-size="16.9" text-anchor="middle" fill="#1c1c1c" >F7</text>
<text transform="translate(676.05 1102.70) scale(1.0 1.09)" font-size="16.9" text-anchor="middle" fill="#1c1c1c" >F8</text>
<text transform="translate(729.47 1102.70) scale(1.0 1.09)" font-size="16.9" text-anchor="middle" fill="#1c1c1c" >F9</text>
<text transform="translate(782.89 1102.70) scale(1.0 1.09)" font-size="16.9" text-anchor="middle" fill="#1c1c1c" >F10</text>
<text transform="translate(236.00 918.70) rotate(-90) scale(1.0 1.09)" font-size="16.9" text-anchor="middle" fill="#1c1c1c" >Entrapment efficiency (%)</text>
</g>
<text transform="translate(466.6 686.55) scale(0.985 1)" font-size="43.5" text-anchor="middle" font-family="'Liberation Serif', serif">(<tspan font-weight="bold">A</tspan>)</text>
<text transform="translate(1486.1 686.55) scale(0.95 1)" font-size="43.5" text-anchor="middle" font-family="'Liberation Serif', serif">(<tspan font-weight="bold">B</tspan>)</text>
<text transform="translate(463.0 1676.75) scale(0.985 1)" font-size="43.5" text-anchor="middle" font-family="'Liberation Serif', serif">(C)</text>
<text transform="translate(1482.6 1676.75) scale(0.975 1)" font-size="43.5" text-anchor="middle" font-family="'Liberation Serif', serif">(D)</text>
</svg>
</body>
</html>
